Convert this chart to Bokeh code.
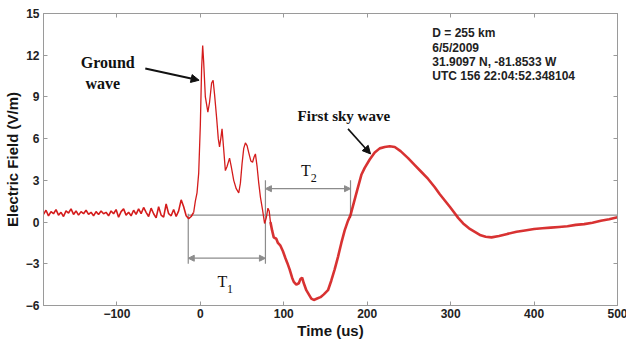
from bokeh.plotting import figure
from bokeh.models import LinearAxis, FixedTicker, Range1d, Label, Arrow, NormalHead, CustomLabelingPolicy
from bokeh.embed import file_html
from bokeh.resources import INLINE

# ---- data ----
time_pre = [-188, -185, -182, -179, -176, -173, -170, -167, -164, -161, -158, -155, -152, -149,
            -146, -143, -140, -137, -134, -131, -128, -125, -122, -119, -116, -113, -110, -107,
            -104, -101, -98, -95, -92, -89, -86, -83, -80, -77, -74, -71, -68, -65, -62, -59,
            -56, -53, -50, -47, -44, -41, -38, -35, -32, -29, -26, -23, -20, -17, -14, -11, -8]
field_pre = [0.55, 0.85, 0.45, 0.75, 0.60, 0.90, 0.50, 0.70, 0.40, 0.80, 0.65, 0.95, 0.55, 0.80,
             0.50, 0.75, 0.60, 0.85, 0.55, 0.70, 0.45, 0.75, 0.55, 0.80, 0.60, 0.70, 0.45, 0.80,
             0.60, 0.90, 0.35, 0.75, 0.95, 0.50, 0.70, 0.45, 0.85, 0.55, 0.95, 0.60, 1.05, 0.70,
             0.40, 1.00, 0.60, 0.30, 1.10, 0.50, 0.35, 1.30, 0.60, 0.45, 0.90, 0.40, 0.80, 1.60,
             1.10, 0.45, 0.25, 0.40, 0.70]

time_ground = [-8, -6, -4, -2, 0, 1.5, 2.8, 4, 6, 9, 11, 13.5, 15.3, 17, 19.5, 21.5, 23, 24.5,
               26, 27.5, 30, 32, 35, 37, 40, 43, 46, 48, 50, 52, 54, 56, 58, 60.5, 62.6, 64.5,
               66, 68, 70, 72, 74.5, 77, 79, 81, 82.5, 84]
field_ground = [0.70, 1.5, 2.1, 3.5, 7.0, 11.0, 12.7, 11.5, 9.0, 7.9, 8.6, 10.0, 10.2, 9.2, 7.5,
                6.0, 5.4, 6.0, 6.7, 5.6, 3.7, 4.0, 4.6, 4.0, 3.0, 2.4, 2.1, 2.8, 4.2, 5.3, 5.7,
                5.5, 5.0, 4.4, 4.3, 4.7, 4.9, 4.0, 2.8, 1.8, 0.9, -0.1, 0.3, 1.0, 0.8, 0.0]

time_sky = [84, 86, 88, 91, 93, 96, 99, 102, 104, 107, 110, 112, 115, 118, 120, 122, 124, 127,
            130, 133, 136, 140, 144, 148, 153, 157, 161, 165, 169, 173, 177, 180, 184, 188, 193,
            197, 203, 209, 215, 221, 227, 233, 240, 249, 257, 265, 273, 281, 287, 293, 299, 304,
            309, 315, 322, 329, 336, 342, 349, 358, 368, 379, 389, 400, 410, 420, 430, 440, 450,
            460, 470, 480, 490, 500]
field_sky = [0.0, -0.6, -1.1, -1.2, -1.5, -1.7, -2.1, -2.6, -2.9, -3.4, -4.0, -4.3, -4.5, -4.4,
             -4.1, -4.0, -4.4, -4.9, -5.2, -5.5, -5.6, -5.5, -5.4, -5.2, -4.9, -4.2, -3.4, -2.5,
             -1.5, -0.6, 0.1, 0.5, 1.4, 2.3, 3.4, 3.9, 4.5, 5.0, 5.3, 5.4, 5.45, 5.4, 5.1, 4.6,
             4.1, 3.6, 3.1, 2.5, 2.0, 1.55, 1.1, 0.7, 0.3, -0.1, -0.45, -0.7, -0.95, -1.05, -1.1,
             -1.0, -0.85, -0.7, -0.6, -0.5, -0.45, -0.4, -0.35, -0.3, -0.2, -0.15, -0.05, 0.1,
             0.2, 0.35]

x_ticks = [-100, 0, 100, 200, 300, 400, 500]
y_ticks = [-6, -3, 0, 3, 6, 9, 12, 15]

info_lines = ["D = 255 km", "6/5/2009", "31.9097 N, -81.8533 W", "UTC 156 22:04:52.348104"]

RED = "#d41c1c"
GRAY = "#8c8c8c"

p = figure(frame_width=574, frame_height=292, output_backend="svg", toolbar_location=None,
           x_range=Range1d(-188, 500), y_range=Range1d(-6, 15),
           min_border_left=36, min_border_right=2, min_border_top=13, min_border_bottom=31)
p.grid.visible = False
p.outline_line_color = "#9a9a9a"
p.background_fill_color = "white"
p.border_fill_color = "white"

hide_all = CustomLabelingPolicy(code="""
try { for (let i = 0; i < indices.size; i++) indices.unset(i); }
catch (e) { try { indices.clear(); } catch (e2) {} }
return indices
""")

def style_axis(ax, ticks, labels=True):
    ax.ticker = FixedTicker(ticks=ticks)
    ax.major_tick_in = 4
    ax.major_tick_out = 0
    ax.minor_tick_line_color = None
    ax.axis_line_color = "#9a9a9a"
    ax.major_tick_line_color = "#9a9a9a"
    ax.major_label_text_font = "Liberation Sans"
    ax.major_label_text_font_style = "bold"
    ax.major_label_text_font_size = "12px"
    ax.major_label_text_color = "#222222"
    ax.axis_label_text_font = "Liberation Sans"
    ax.axis_label_text_font_style = "bold"
    ax.axis_label_text_font_size = "15px"
    ax.axis_label_text_color = "#151515"
    if not labels:
        ax.major_label_policy = hide_all
        ax.major_label_standoff = 0

style_axis(p.xaxis[0], x_ticks)
style_axis(p.yaxis[0], y_ticks)
p.xaxis[0].axis_label = "Time (us)"
p.yaxis[0].axis_label = "Electric Field (V/m)"
p.xaxis[0].major_label_standoff = 3
p.xaxis[0].axis_label_standoff = 1
p.yaxis[0].major_label_standoff = 4
p.yaxis[0].axis_label_standoff = 2

top = LinearAxis()
style_axis(top, x_ticks, labels=False)
p.add_layout(top, "above")
right = LinearAxis()
style_axis(right, y_ticks, labels=False)
p.add_layout(right, "right")

# reference lines
p.segment(x0=[-14.5], y0=[0.5], x1=[500], y1=[0.5], line_color=GRAY, line_width=1.3)
p.segment(x0=[-14.5, 78, 180], y0=[0.6, 3.0, 3.0], x1=[-14.5, 78, 180], y1=[-3.0, -3.0, 0.3],
          line_color=GRAY, line_width=1.2)

# waveform
p.line(time_pre, field_pre, line_color=RED, line_width=1.6)
p.line(time_ground, field_ground, line_color=RED, line_width=1.3)
p.line(time_sky, field_sky, line_color=RED, line_width=2.6, line_alpha=0.9)

# T1 / T2 arrows
for (xs, xe, yy) in [(-14.5, 78, -2.6), (78, 180, 2.4)]:
    p.add_layout(Arrow(x_start=xs, y_start=yy, x_end=xe, y_end=yy, line_color=GRAY, line_width=1.2,
                       start=NormalHead(size=6, fill_color=GRAY, line_color=GRAY),
                       end=NormalHead(size=6, fill_color=GRAY, line_color=GRAY)))

# annotation arrows
p.add_layout(Arrow(x_start=-66, y_start=11.05, x_end=-1.5, y_end=10.2, line_color="#111111",
                   line_width=2, end=NormalHead(size=8, fill_color="#111111", line_color="#111111")))
p.add_layout(Arrow(x_start=177, y_start=6.7, x_end=204, y_end=4.9, line_color="#111111",
                   line_width=1.6, end=NormalHead(size=8, fill_color="#111111", line_color="#111111")))

def serif(x, y, t, size="16px", bold=True):
    p.add_layout(Label(x=x, y=y, text=t, text_font="Liberation Serif",
                       text_font_style="bold" if bold else "normal", text_font_size=size,
                       text_align="center", text_baseline="middle", text_color="#111111"))

serif(-111, 11.5, "Ground")
serif(-117, 10.0, "wave")
serif(172, 7.66, "First sky wave", size="15px")
serif(26.5, -4.3, "T", size="16px", bold=False)
serif(35.5, -4.8, "1", size="12px", bold=False)
serif(126.5, 3.7, "T", size="16px", bold=False)
serif(136, 3.2, "2", size="12px", bold=False)

for i, t in enumerate(info_lines):
    p.add_layout(Label(x=278, y=13.57 - i * 1.03, text=t, text_font="Liberation Sans",
                       text_font_style="bold", text_font_size="12px", text_align="left",
                       text_baseline="middle", text_color="#222222"))

open("out.html", "w").write(file_html(p, INLINE))
